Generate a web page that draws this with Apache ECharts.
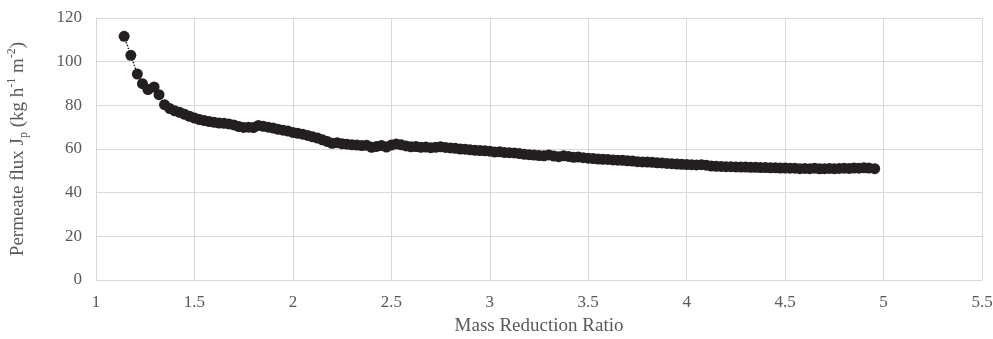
<!DOCTYPE html>
<html>
<head>
<meta charset="utf-8">
<script src="https://cdn.jsdelivr.net/npm/echarts@6/dist/echarts.min.js"></script>
<style>
  html, body { margin: 0; padding: 0; background: #fff; }
  #chart { width: 993px; height: 339px; }
</style>
</head>
<body>
<div id="chart"></div>
<script>
// mass reduction ratio (x) and permeate flux (y)
const massRatio = [
  1.143, 1.177, 1.21, 1.236, 1.264, 1.295, 1.32, 1.348,
  1.375, 1.40, 1.425, 1.45, 1.475, 1.50, 1.525, 1.55, 1.575, 1.60,
  1.625, 1.65, 1.675, 1.70, 1.725, 1.75, 1.775, 1.80, 1.825, 1.85,
  1.875, 1.90, 1.925, 1.95, 1.975, 2.00, 2.025, 2.05, 2.075, 2.10,
  2.125, 2.15, 2.175, 2.20, 2.225, 2.25, 2.275, 2.30, 2.325, 2.35,
  2.375, 2.40, 2.425, 2.45, 2.475, 2.50, 2.525, 2.55, 2.575, 2.60,
  2.625, 2.65, 2.675, 2.70, 2.725, 2.75, 2.775, 2.80, 2.825, 2.85,
  2.875, 2.90, 2.925, 2.95, 2.975, 3.00, 3.025, 3.05, 3.075, 3.10,
  3.125, 3.15, 3.175, 3.20, 3.225, 3.25, 3.275, 3.30, 3.325, 3.35,
  3.375, 3.40, 3.425, 3.45, 3.475, 3.50, 3.525, 3.55, 3.575, 3.60,
  3.625, 3.65, 3.675, 3.70, 3.725, 3.75, 3.775, 3.80, 3.825, 3.85,
  3.875, 3.90, 3.925, 3.95, 3.975, 4.00, 4.025, 4.05, 4.075, 4.10,
  4.125, 4.15, 4.175, 4.20, 4.225, 4.25, 4.275, 4.30, 4.325, 4.35,
  4.375, 4.40, 4.425, 4.45, 4.475, 4.50, 4.525, 4.55, 4.575, 4.60,
  4.625, 4.65, 4.675, 4.70, 4.725, 4.75, 4.775, 4.80, 4.825, 4.85,
  4.875, 4.90, 4.925, 4.955
];
const flux = [
  111.6, 102.9, 94.3, 89.9, 87.2, 88.4, 84.9, 80.3,
  78.5, 77.5, 76.8, 75.9, 75.0, 74.2, 73.5, 73.0, 72.6, 72.2,
  71.9, 71.8, 71.5, 71.0, 70.3, 69.9, 70.0, 69.8, 70.8, 70.4,
  70.0, 69.6, 69.0, 68.6, 68.2, 67.6, 67.2, 66.8, 66.2, 65.6,
  65.0, 64.2, 63.4, 62.6, 62.9, 62.4, 62.2, 61.9, 61.8, 61.6,
  61.7, 60.8, 61.2, 61.6, 60.9, 61.8, 62.3, 61.9, 61.4, 61.0,
  61.1, 60.8, 60.9, 60.6, 60.8, 61.0, 60.7, 60.5, 60.3, 60.0,
  59.9, 59.6, 59.4, 59.3, 59.2, 59.0, 58.6, 58.7, 58.4, 58.3,
  58.2, 57.9, 57.6, 57.4, 57.2, 57.0, 56.9, 57.3, 56.8, 56.5,
  56.9, 56.6, 56.2, 56.3, 56.0, 55.8, 55.6, 55.4, 55.3, 55.2,
  55.0, 54.9, 54.8, 54.6, 54.5, 54.2, 54.1, 54.0, 53.9, 53.7,
  53.6, 53.4, 53.3, 53.1, 53.0, 52.9, 52.8, 52.7, 52.8, 52.6,
  52.2, 52.1, 52.0, 51.9, 51.9, 51.8, 51.7, 51.7, 51.6, 51.6,
  51.5, 51.5, 51.4, 51.4, 51.3, 51.3, 51.2, 51.2, 51.0, 51.1,
  51.0, 51.2, 50.9, 51.0, 51.1, 51.0, 51.1, 51.2, 51.1, 51.3,
  51.2, 51.4, 51.3, 51.0
];

const chart = echarts.init(document.getElementById('chart'));
const serif = '"Liberation Serif", "DejaVu Serif", serif';
const textGrey = '#595959';
const gridGrey = '#d9d9d9';

const points = massRatio.map((x, i) => [x, flux[i]]);

chart.setOption({
  animation: false,
  backgroundColor: '#fff',
  grid: { left: 96, right: 11, top: 18, bottom: 59, outerBoundsMode: 'none' },
  xAxis: {
    type: 'value',
    min: 1,
    max: 5.5,
    interval: 0.5,
    name: 'Mass Reduction Ratio',
    nameLocation: 'middle',
    nameGap: 37,
    nameTextStyle: { fontFamily: serif, fontSize: 19, color: textGrey },
    axisLine: { show: true, lineStyle: { color: gridGrey, width: 1 } },
    axisTick: { show: false },
    axisLabel: { fontFamily: serif, fontSize: 17, color: textGrey, margin: 14 },
    splitLine: { show: true, lineStyle: { color: gridGrey, width: 1 } }
  },
  yAxis: {
    type: 'value',
    min: 0,
    max: 120,
    interval: 20,
    name: 'Permeate flux J{sub|p} (kg h{sup|-1} m{sup|-2})',
    nameLocation: 'middle',
    nameGap: 66,
    nameRotate: 90,
    nameTextStyle: {
      fontFamily: serif, fontSize: 19, color: textGrey, lineHeight: 24,
      rich: {
        sub: { fontFamily: serif, fontSize: 12, color: textGrey, verticalAlign: 'bottom', lineHeight: 24 },
        sup: { fontFamily: serif, fontSize: 12, color: textGrey, verticalAlign: 'top', lineHeight: 24 }
      }
    },
    axisLine: { show: true, lineStyle: { color: gridGrey, width: 1 } },
    axisTick: { show: false },
    axisLabel: { fontFamily: serif, fontSize: 17, color: textGrey, margin: 14 },
    splitLine: { show: true, lineStyle: { color: gridGrey, width: 1 } }
  },
  series: [{
    type: 'line',
    data: points,
    symbol: 'circle',
    symbolSize: 11,
    itemStyle: { color: '#231f20' },
    lineStyle: { color: '#231f20', width: 1.5, type: 'dotted' }
  }]
});
</script>
</body>
</html>
